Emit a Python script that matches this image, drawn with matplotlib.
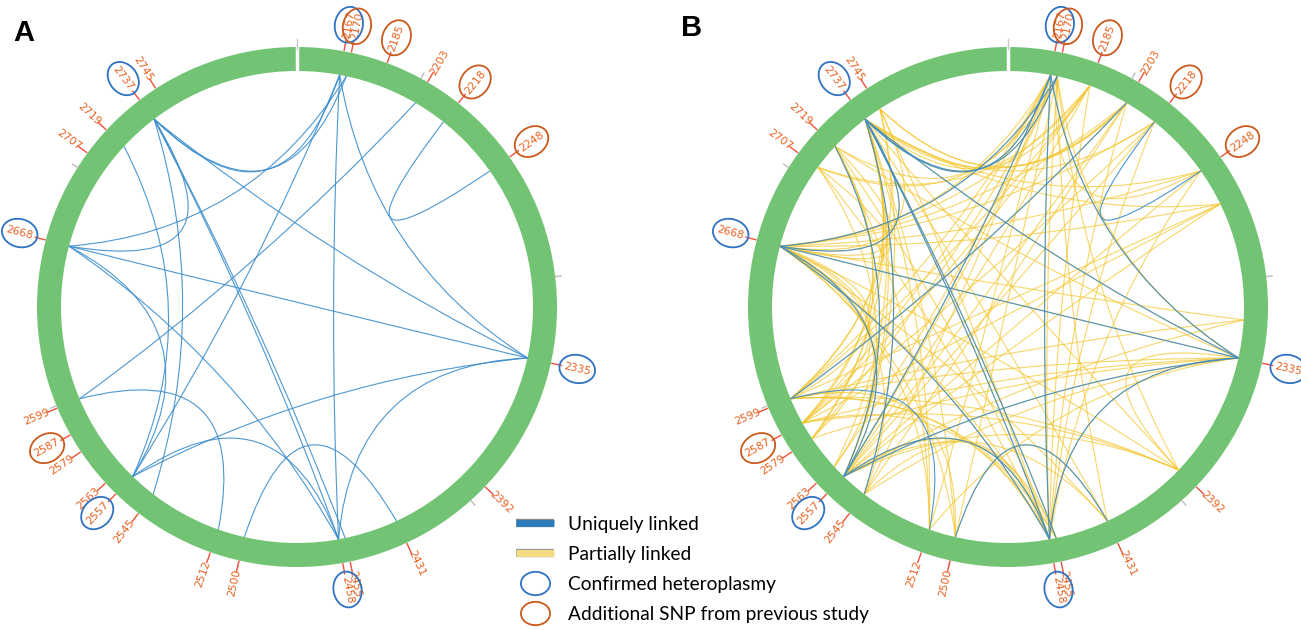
import numpy as np
import matplotlib
matplotlib.use('agg')
import matplotlib.pyplot as plt
from matplotlib.patches import Ellipse, Wedge, PathPatch
from matplotlib.path import Path
from matplotlib.lines import Line2D
import matplotlib.patheffects as pe

# genomic window drawn on the ring (clockwise from the top gap)
start_pos = 2148
end_pos = 2805

snp_labels = [2167, 2170, 2185, 2203, 2218, 2248, 2335, 2392, 2431, 2455, 2458,
              2500, 2512, 2545, 2557, 2563, 2579, 2587, 2599, 2668, 2707, 2719,
              2737, 2745]
confirmed = [2167, 2335, 2458, 2557, 2668, 2737]
previous_study = [2170, 2185, 2218, 2248, 2587]
ring_ticks = [2200, 2300, 2400, 2500, 2600, 2700]

# uniquely linked pairs (blue)
unique_links = [
    (2170, 2737), (2167, 2737), (2167, 2458), (2167, 2335), (2167, 2557),
    (2170, 2668), (2203, 2599), (2218, 2248), (2668, 2737), (2668, 2335),
    (2668, 2557), (2668, 2458), (2737, 2335), (2737, 2458), (2737, 2455),
    (2737, 2545), (2719, 2557), (2557, 2335), (2557, 2458), (2599, 2512),
    (2500, 2431), (2335, 2458),
]

# partially linked pairs (yellow, panel B only)
partial_links = [
    (2167, 2335), (2167, 2458), (2167, 2557), (2167, 2668), (2167, 2737),
    (2167, 2587), (2167, 2599), (2167, 2512), (2167, 2545), (2167, 2719),
    (2170, 2335), (2170, 2458), (2170, 2557), (2170, 2668), (2170, 2737),
    (2170, 2579), (2170, 2500), (2170, 2431), (2170, 2392), (2170, 2707),
    (2185, 2458), (2185, 2557), (2185, 2668), (2185, 2737), (2185, 2587),
    (2185, 2599), (2203, 2557), (2203, 2668), (2203, 2737), (2203, 2458),
    (2203, 2599), (2203, 2745), (2218, 2557), (2218, 2668), (2218, 2737),
    (2218, 2458), (2218, 2587), (2248, 2557), (2248, 2668), (2248, 2737),
    (2248, 2458), (2248, 2170), (2265, 2668), (2265, 2557), (2265, 2599),
    (2265, 2587), (2265, 2737), (2318, 2668), (2318, 2557), (2318, 2599),
    (2335, 2458), (2335, 2557), (2335, 2668), (2335, 2737), (2335, 2392),
    (2335, 2587), (2335, 2599), (2335, 2545), (2335, 2512), (2335, 2719),
    (2335, 2579), (2392, 2557), (2392, 2668), (2392, 2737), (2392, 2587),
    (2392, 2599), (2431, 2557), (2431, 2668), (2431, 2737), (2431, 2500),
    (2455, 2557), (2455, 2668), (2455, 2737), (2455, 2719), (2455, 2599),
    (2458, 2557), (2458, 2668), (2458, 2737), (2458, 2587), (2458, 2599),
    (2458, 2745), (2458, 2707), (2458, 2545), (2500, 2668), (2500, 2737),
    (2500, 2599), (2512, 2668), (2512, 2737), (2512, 2719), (2545, 2668),
    (2545, 2737), (2545, 2203), (2557, 2668), (2557, 2737), (2557, 2707),
    (2557, 2719), (2557, 2745), (2563, 2668), (2563, 2737), (2563, 2170),
    (2579, 2668), (2579, 2737), (2579, 2719), (2587, 2668), (2587, 2737),
    (2587, 2719), (2599, 2668), (2599, 2737), (2599, 2745), (2668, 2737),
    (2668, 2719), (2668, 2745), (2668, 2707), (2707, 2185), (2745, 2203),
]

R_OUT = 260
R_IN = 236
GREEN = '#72c474'
BLUE = '#3a8ccc'
YELLOW = '#f4c52a'
LABEL_C = '#e8601e'
TICK_C = '#f0503c'
CIRC_BLUE = '#2f72c2'
CIRC_ORANGE = '#c95a1c'
NARROW = ['Liberation Sans Narrow', 'DejaVu Sans']


def angle(pos):
    return (pos - start_pos) / (end_pos - start_pos) * 2 * np.pi


def xy(pos, r):
    a = angle(pos)
    return r * np.sin(a), r * np.cos(a)


def chord(ax, p1, p2, color, lw, alpha, z):
    x1, y1 = xy(p1, R_IN)
    x2, y2 = xy(p2, R_IN)
    theta = abs(angle(p1) - angle(p2))
    theta = min(theta, 2 * np.pi - theta)
    lam = min(0.75, 0.75 * np.sin(theta / 2))
    cx, cy = lam * (x1 + x2) / 2, lam * (y1 + y2) / 2
    path = Path([(x1, y1), (cx, cy), (x2, y2)], [Path.MOVETO, Path.CURVE3, Path.CURVE3])
    ax.add_patch(PathPatch(path, fc='none', ec=color, lw=lw, alpha=alpha, zorder=z))


def draw_panel(ax, blue_links, yellow_links):
    ax.add_patch(Wedge((0, 0), R_OUT, 0, 360, width=R_OUT - R_IN, fc=GREEN, ec='none', zorder=2))
    # gap at the start of the window
    ax.plot([0, 0], [R_IN - 1, R_OUT + 8], color='white', lw=2.5, zorder=3)
    ax.plot([0, 0], [R_OUT - 2, R_OUT + 8], color='#c8c8c8', lw=1.0, zorder=4)
    for t in ring_ticks:
        x0, y0 = xy(t, R_OUT)
        x1, y1 = xy(t, R_OUT + 6)
        ax.plot([x0, x1], [y0, y1], color='#bdbdbd', lw=1.0, zorder=3)

    for p1, p2 in yellow_links:
        chord(ax, p1, p2, YELLOW, 0.8, 0.7, 5)
    for p1, p2 in blue_links:
        chord(ax, p1, p2, BLUE, 0.8, 0.9, 6)

    for pos in snp_labels:
        circled = pos in confirmed or pos in previous_study
        x0, y0 = xy(pos, R_OUT + 1)
        x1, y1 = xy(pos, R_OUT + 11)
        ax.plot([x0, x1], [y0, y1], color=TICK_C, lw=1.0, zorder=3)
        phi = 90 - np.degrees(angle(pos))
        rot = phi if np.cos(np.radians(phi)) >= 0 else phi + 180
        r_txt = R_OUT + (27 if circled else 23)
        tx, ty = xy(pos, r_txt)
        ax.text(tx, ty, str(pos), rotation=rot, rotation_mode='anchor', ha='center',
                va='center', fontsize=7.8, color=LABEL_C, family=NARROW, zorder=7)
        if circled:
            ec = CIRC_BLUE if pos in confirmed else CIRC_ORANGE
            ax.add_patch(Ellipse((tx, ty), 36, 28, angle=rot, fc='none', ec=ec, lw=1.3, zorder=8))

    ax.set_aspect('equal')
    ax.axis('off')


fig = plt.figure(figsize=(13.01, 6.30), dpi=100)

axA = fig.add_axes([0, 0, 600 / 1301, 1])
axA.set_xlim(-297, 303)
axA.set_ylim(-323, 307)
draw_panel(axA, unique_links, [])

axB = fig.add_axes([640 / 1301, 0, 661 / 1301, 1])
axB.set_xlim(-368, 293)
axB.set_ylim(-323, 307)
draw_panel(axB, unique_links, partial_links)

fig.text(13 / 1301, 1 - 41 / 630, 'A', fontsize=21, fontweight='bold', family='Liberation Sans')
fig.text(681 / 1301, 1 - 36 / 630, 'B', fontsize=21, fontweight='bold', family='Liberation Sans')

ell = Path.unit_circle()
ell = Path(ell.vertices * [1.25, 1.0], ell.codes)
handles = [
    Line2D([], [], color='#2e7dbd', lw=5, solid_capstyle='butt',
           path_effects=[pe.Stroke(linewidth=6, foreground='#8a8a8a'), pe.Normal()]),
    Line2D([], [], color='#f4dc84', lw=5, solid_capstyle='butt',
           path_effects=[pe.Stroke(linewidth=6, foreground='#9a9a9a'), pe.Normal()]),
    Line2D([], [], ls='none', marker=ell, ms=21, mfc='none', mec=CIRC_BLUE, mew=1.3),
    Line2D([], [], ls='none', marker=ell, ms=21, mfc='none', mec=CIRC_ORANGE, mew=1.3),
]
fig.legend(handles, ['Uniquely linked', 'Partially linked', 'Confirmed heteroplasmy',
                     'Additional SNP from previous study'],
           loc='upper left', bbox_to_anchor=(516 / 1301, 1 - 516 / 630), frameon=False,
           prop={'family': 'Lato', 'size': 13.8}, handlelength=2.0, handletextpad=0.72,
           labelspacing=0.68, borderpad=0, borderaxespad=0)

fig.savefig('out.png', dpi=100)
